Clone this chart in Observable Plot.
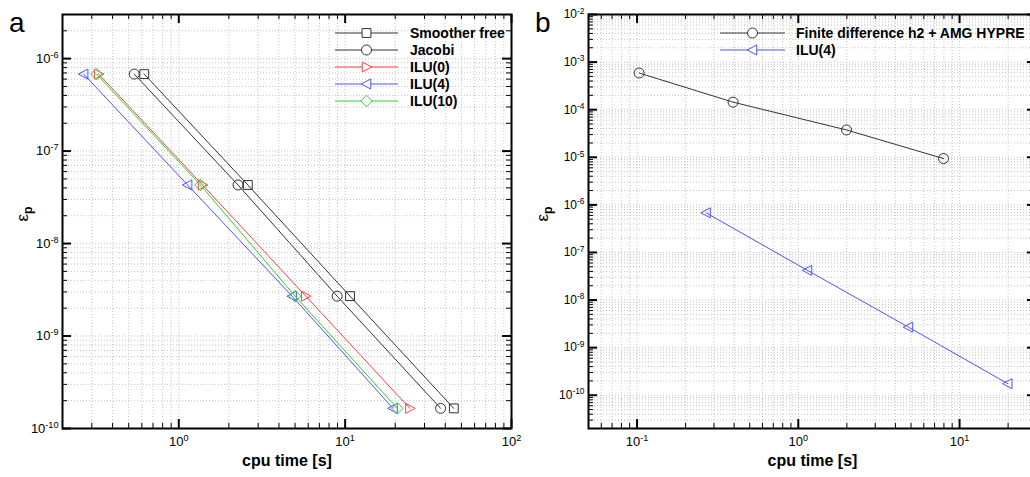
<!DOCTYPE html>
<html><head><meta charset="utf-8">
<script src="https://cdn.jsdelivr.net/npm/d3@7"></script>
<script src="https://cdn.jsdelivr.net/npm/@observablehq/plot@0.6"></script>
<style>
body{margin:0;background:#fff;font-family:"Liberation Sans",Arial,sans-serif;}
#wrap{position:relative;width:1030px;height:477px;overflow:hidden;background:#fff;}
.panel{position:absolute;top:0;}
.letter{position:absolute;font-size:28px;line-height:1;}
</style></head><body><div id="wrap"></div>
<script>
// ---------- data: panel a ----------
const seriesA = ["Smoother free", "Jacobi", "ILU(0)", "ILU(4)", "ILU(10)"];
const colorsA = ["#333333", "#333333", "#ff4040", "#5050ff", "#30d030"];
const timeSmoother = [0.62, 2.6, 10.7, 45];
const timeJacobi = [0.54, 2.27, 8.95, 37.5];
const timeILU0 = [0.33, 1.39, 5.8, 24.5];
const timeILU4 = [0.268, 1.13, 4.8, 19.4];
const timeILU10 = [0.32, 1.35, 5.0, 20.6];
const errA = [6.8e-7, 4.3e-8, 2.7e-9, 1.65e-10];
const xTicksA = [1, 10, 100];
const yTicksA = [1e-10, 1e-9, 1e-8, 1e-7, 1e-6];
// ---------- data: panel b ----------
const seriesB = ["Finite difference h2 + AMG HYPRE", "ILU(4)"];
const colorsB = ["#333333", "#5050ff"];
const timeFD = [0.103, 0.394, 1.99, 7.95];
const errFD = [5.9e-4, 1.44e-4, 3.75e-5, 9.4e-6];
const timeILU4b = [0.268, 1.14, 4.82, 19.9];
const errILU4b = [6.8e-7, 4.2e-8, 2.7e-9, 1.75e-10];
const xTicksB = [0.1, 1, 10];
const yTicksB = [1e-10, 1e-9, 1e-8, 1e-7, 1e-6, 1e-5, 1e-4, 1e-3, 1e-2];
const xLabel = "cpu time [s]";
const yLabel = "ε|p";

// ---------- symbols ----------
const symTriRight = {draw(ctx, size){const r=Math.sqrt(size/Math.PI); ctx.moveTo(r*1.05,0); ctx.lineTo(-r*0.85,-r); ctx.lineTo(-r*0.85,r); ctx.closePath();}};
const symTriLeft = {draw(ctx, size){const r=Math.sqrt(size/Math.PI); ctx.moveTo(-r*1.05,0); ctx.lineTo(r*0.85,-r); ctx.lineTo(r*0.85,r); ctx.closePath();}};
const symDiamond = {draw(ctx, size){const r=Math.sqrt(size/Math.PI)*1.15; ctx.moveTo(0,-r); ctx.lineTo(r,0); ctx.lineTo(0,r); ctx.lineTo(-r,0); ctx.closePath();}};
const symbolsA = [d3.symbolSquare, d3.symbolCircle, symTriRight, symTriLeft, symDiamond];
const symbolsB = [d3.symbolCircle, symTriLeft];

const rows = (t, e) => t.map((v, i) => ({time: v, err: e[i]}));
const dataA = [rows(timeSmoother, errA), rows(timeJacobi, errA), rows(timeILU0, errA), rows(timeILU4, errA), rows(timeILU10, errA)];
const dataB = [rows(timeFD, errFD), rows(timeILU4b, errILU4b)];

function minors(domain) {
  const out = [];
  const lo = Math.floor(Math.log10(domain[0])), hi = Math.ceil(Math.log10(domain[1]));
  for (let e = lo; e <= hi; e++) for (let m = 1; m <= 9; m++) {
    const v = +(m * Math.pow(10, e)).toPrecision(6);
    if (v >= domain[0] * 0.9999 && v <= domain[1] * 1.0001) out.push(v);
  }
  return out;
}
const fmt = d => "10^" + Math.round(Math.log10(d));

function panel({width, height, ml, mr, mt, mb, xDomain, yDomain, xTicks, yTicks, data, colors, symbols, yFont, xFont, yLabelDx}) {
  const W = width - ml - mr, H = height - mt - mb;
  const xm = minors(xDomain), ym = minors(yDomain);
  const xMinor = xm.filter(v => !xTicks.some(t => Math.abs(t - v) / t < 1e-6));
  const yMinor = ym.filter(v => !yTicks.some(t => Math.abs(t - v) / t < 1e-6));
  const marks = [
    Plot.ruleX(xm, {stroke: "#c4c4c4", strokeDasharray: "1,2", strokeWidth: 1}),
    Plot.ruleY(ym, {stroke: "#c4c4c4", strokeDasharray: "1,2", strokeWidth: 1}),
    // inward ticks
    Plot.ruleX(xTicks, {insetTop: H - 9, stroke: "black", strokeWidth: 2}),
    Plot.ruleX(xMinor, {insetTop: H - 5, stroke: "black", strokeWidth: 1}),
    Plot.ruleX(xTicks, {insetBottom: H - 9, stroke: "black", strokeWidth: 2}),
    Plot.ruleX(xMinor, {insetBottom: H - 5, stroke: "black", strokeWidth: 1}),
    Plot.ruleY(yTicks, {insetRight: W - 9, stroke: "black", strokeWidth: 2}),
    Plot.ruleY(yMinor, {insetRight: W - 5, stroke: "black", strokeWidth: 1}),
    Plot.ruleY(yTicks, {insetLeft: W - 9, stroke: "black", strokeWidth: 2}),
    Plot.ruleY(yMinor, {insetLeft: W - 5, stroke: "black", strokeWidth: 1}),
    Plot.axisX(xTicks, {anchor: "bottom", tickSize: 0, tickPadding: 8, tickFormat: fmt, fontSize: xFont, label: null}),
    Plot.axisY(yTicks, {anchor: "left", tickSize: 0, tickPadding: 4, tickFormat: fmt, fontSize: yFont, label: null}),
  ];
  data.forEach((d, i) => {
    marks.push(Plot.line(d, {x: "time", y: "err", stroke: colors[i], strokeWidth: 1}));
    marks.push(Plot.dot(d, {x: "time", y: "err", stroke: colors[i], fill: "none", symbol: symbols[i], r: 5, strokeWidth: 1}));
  });
  marks.push(Plot.frame({stroke: "black", strokeWidth: 2}));
  marks.push(Plot.text([xLabel], {frameAnchor: "bottom", dy: 37, fontWeight: "bold", fontSize: 16, text: d => d, fill: "black"}));
  marks.push(Plot.text([yLabel], {frameAnchor: "left", dx: yLabelDx, rotate: -90, fontSize: 17, text: d => d, fill: "black"}));
  const svg = Plot.plot({
    width, height, marginLeft: ml, marginRight: mr, marginTop: mt, marginBottom: mb,
    x: {type: "log", domain: xDomain, label: null},
    y: {type: "log", domain: yDomain, label: null},
    style: {fontFamily: "'Liberation Sans', Arial, sans-serif", background: "transparent", color: "black", overflow: "visible"},
    marks
  });
  // superscripts / subscripts
  svg.querySelectorAll("text").forEach(t => {
    const s = t.textContent;
    let m = s.match(/^10\^(-?\d+)$/);
    if (m) {
      t.textContent = "";
      const a = document.createElementNS("http://www.w3.org/2000/svg", "tspan"); a.textContent = "10";
      const b = document.createElementNS("http://www.w3.org/2000/svg", "tspan"); b.textContent = m[1];
      b.setAttribute("dy", "-0.55em"); b.setAttribute("font-size", "0.7em");
      t.append(a, b);
      return;
    }
    m = s.match(/^(.)\|(.)$/);
    if (m) {
      t.textContent = "";
      const a = document.createElementNS("http://www.w3.org/2000/svg", "tspan"); a.textContent = m[1];
      const b = document.createElementNS("http://www.w3.org/2000/svg", "tspan"); b.textContent = m[2];
      b.setAttribute("dy", "0.35em"); b.setAttribute("font-size", "0.72em"); b.setAttribute("font-weight", "bold");
      t.append(a, b);
    }
  });
  return svg;
}

function legend(series, colors, symbols, x0, y0, lineW, textX) {
  const svg = d3.create("svg").attr("width", 1030).attr("height", 477)
    .style("position", "absolute").style("left", 0).style("top", 0).style("overflow", "visible");
  series.forEach((s, i) => {
    const y = y0 + i * 17;
    svg.append("line").attr("x1", x0).attr("x2", x0 + lineW).attr("y1", y).attr("y2", y).attr("stroke", colors[i]).attr("stroke-width", 1);
    svg.append("path").attr("d", d3.symbol(symbols[i], 25 * Math.PI)()).attr("transform", `translate(${x0 + lineW / 2},${y})`)
      .attr("fill", "white").attr("stroke", colors[i]);
    svg.append("text").attr("x", textX).attr("y", y).attr("dy", "0.36em").attr("font-size", 14).attr("font-weight", "bold")
      .attr("font-family", "'Liberation Sans', Arial, sans-serif").text(s);
  });
  return svg.node();
}

const wrap = document.getElementById("wrap");
const a = panel({width: 515, height: 477, ml: 62, mr: 4, mt: 14, mb: 49, xDomain: [0.2, 100], yDomain: [1e-10, 3e-6],
  xTicks: xTicksA, yTicks: yTicksA, data: dataA, colors: colorsA, symbols: symbolsA, yFont: 13, xFont: 13, yLabelDx: -40});
a.classList.add("panel"); a.style.left = "0px";
const b = panel({width: 521, height: 477, ml: 73, mr: 0, mt: 14, mb: 49, xDomain: [0.05, 30], yDomain: [2e-11, 1e-2],
  xTicks: xTicksB, yTicks: yTicksB, data: dataB, colors: colorsB, symbols: symbolsB, yFont: 12, xFont: 13, yLabelDx: -46});
b.classList.add("panel"); b.style.left = "515px";
wrap.append(a, b);
wrap.append(legend(seriesA, colorsA, symbolsA, 335, 33, 63, 410));
wrap.append(legend(seriesB, colorsB, symbolsB, 720, 33, 65, 796));
const la = document.createElement("div"); la.className = "letter"; la.textContent = "a"; la.style.left = "9px"; la.style.top = "9px";
const lb = document.createElement("div"); lb.className = "letter"; lb.textContent = "b"; lb.style.left = "535px"; lb.style.top = "9px";
wrap.append(la, lb);
</script></body></html>
